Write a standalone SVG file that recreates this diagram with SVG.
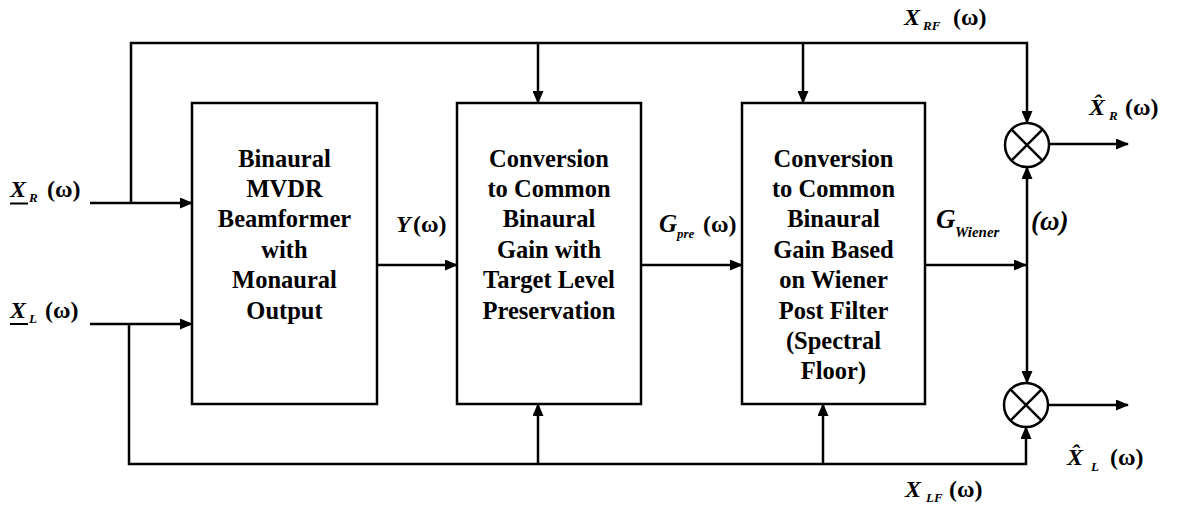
<svg xmlns="http://www.w3.org/2000/svg" width="1178" height="509" viewBox="0 0 1178 509">
<defs>
<marker id="arr" markerUnits="userSpaceOnUse" viewBox="0 0 13 11" markerWidth="13" markerHeight="11" refX="12" refY="5.5" orient="auto">
<path d="M0,0 L13,5.5 L0,11 z" fill="#000"/>
</marker>
<style>
.box{fill:#fff;stroke:#000;stroke-width:2.5}
.ln{fill:none;stroke:#000;stroke-width:2.5}
.i{font-style:italic}
.mul{fill:#fff;stroke:#000;stroke-width:2.5}
</style>
</defs>
<rect width="1178" height="509" fill="#fff"/>

<g id="connectors">
<path class="ln" marker-end="url(#arr)" d="M90,203 H192"/>
<path class="ln" marker-end="url(#arr)" d="M90,324 H192"/>
<path class="ln" marker-end="url(#arr)" d="M131,203 V43 H1027 V123"/>
<path class="ln" marker-end="url(#arr)" d="M538,43 V103"/>
<path class="ln" marker-end="url(#arr)" d="M803,43 V103"/>
<path class="ln" marker-end="url(#arr)" d="M129,324 V464 H1026 V427"/>
<path class="ln" marker-end="url(#arr)" d="M538,464 V404"/>
<path class="ln" marker-end="url(#arr)" d="M823,464 V404"/>
<path class="ln" marker-end="url(#arr)" d="M377,265 H457"/>
<path class="ln" marker-end="url(#arr)" d="M641,265 H742"/>
<path class="ln" marker-end="url(#arr)" d="M925,265 H1026"/>
<path class="ln" marker-end="url(#arr)" d="M1027,265 V167"/>
<path class="ln" marker-end="url(#arr)" d="M1027,265 V383"/>
<path class="ln" marker-end="url(#arr)" d="M1049,144 H1128"/>
<path class="ln" marker-end="url(#arr)" d="M1048,405 H1128"/>
</g>

<g id="beamformer">
<rect class="box" x="192" y="103" width="185" height="301"/>
<text font-family="Times New Roman, Liberation Serif, serif" font-weight="bold" font-size="24.5" text-anchor="middle"><tspan x="284.5" y="166.5">Binaural</tspan><tspan x="284.5" y="196.9">MVDR</tspan><tspan x="284.5" y="227.3">Beamformer</tspan><tspan x="284.5" y="257.7">with</tspan><tspan x="284.5" y="288.1">Monaural</tspan><tspan x="284.5" y="318.5">Output</tspan></text>
</g>

<g id="conversion1">
<rect class="box" x="457" y="103" width="184" height="301"/>
<text font-family="Times New Roman, Liberation Serif, serif" font-weight="bold" font-size="24.5" text-anchor="middle"><tspan x="549" y="166.5">Conversion</tspan><tspan x="549" y="196.9">to Common</tspan><tspan x="549" y="227.3">Binaural</tspan><tspan x="549" y="257.7">Gain with</tspan><tspan x="549" y="288.1">Target Level</tspan><tspan x="549" y="318.5">Preservation</tspan></text>
</g>

<g id="conversion2">
<rect class="box" x="742" y="103" width="183" height="301"/>
<text font-family="Times New Roman, Liberation Serif, serif" font-weight="bold" font-size="24.5" text-anchor="middle"><tspan x="833.5" y="166.5">Conversion</tspan><tspan x="833.5" y="196.9">to Common</tspan><tspan x="833.5" y="227.3">Binaural</tspan><tspan x="833.5" y="257.7">Gain Based</tspan><tspan x="833.5" y="288.1">on Wiener</tspan><tspan x="833.5" y="318.5">Post Filter</tspan><tspan x="833.5" y="348.9">(Spectral</tspan><tspan x="833.5" y="379.3">Floor)</tspan></text>
</g>

<g id="mult-right">
<circle class="mul" cx="1027" cy="145" r="22"/>
<path class="ln" d="M1011.4,129.4 L1042.6,160.6 M1042.6,129.4 L1011.4,160.6"/>
</g>

<g id="mult-left">
<circle class="mul" cx="1026" cy="405" r="22"/>
<path class="ln" d="M1010.4,389.4 L1041.6,420.6 M1041.6,389.4 L1010.4,420.6"/>
</g>

<g id="label-XR">
<text font-family="Times New Roman, Liberation Serif, serif" font-weight="bold" font-size="24"><tspan class="i" x="10" y="197">X</tspan><tspan class="i" x="29" y="202" font-size="13">R</tspan><tspan x="47" y="197">(ω)</tspan></text>
<line x1="10" y1="203.5" x2="28" y2="203.5" stroke="#000" stroke-width="2"/>
</g>
<g id="label-XL">
<text font-family="Times New Roman, Liberation Serif, serif" font-weight="bold" font-size="24"><tspan class="i" x="10" y="318">X</tspan><tspan class="i" x="29" y="323" font-size="13">L</tspan><tspan x="45" y="318">(ω)</tspan></text>
<line x1="10" y1="324" x2="28" y2="324" stroke="#000" stroke-width="2"/>
</g>
<g id="label-Y">
<text font-family="Times New Roman, Liberation Serif, serif" font-weight="bold" font-size="24"><tspan class="i" x="396" y="232">Y</tspan><tspan x="413" y="232">(ω)</tspan></text>
</g>
<g id="label-Gpre">
<text font-family="Times New Roman, Liberation Serif, serif" font-weight="bold" font-size="24"><tspan class="i" x="659" y="232" font-size="25">G</tspan><tspan class="i" x="677" y="238" font-size="13">pre</tspan><tspan x="703" y="232">(ω)</tspan></text>
</g>
<g id="label-GWiener">
<text font-family="Times New Roman, Liberation Serif, serif" font-weight="bold" font-size="27"><tspan class="i" x="936" y="228">G</tspan><tspan class="i" x="955" y="237" font-size="15">Wiener</tspan><tspan class="i" x="1031" y="230">(ω)</tspan></text>
</g>
<g id="label-XRF">
<text font-family="Times New Roman, Liberation Serif, serif" font-weight="bold" font-size="24"><tspan class="i" x="904" y="25">X</tspan><tspan class="i" x="923" y="30" font-size="13">RF</tspan><tspan x="953" y="25">(ω)</tspan></text>
</g>
<g id="label-XLF">
<text font-family="Times New Roman, Liberation Serif, serif" font-weight="bold" font-size="24"><tspan class="i" x="905" y="497">X</tspan><tspan class="i" x="926" y="502" font-size="13">LF</tspan><tspan x="949" y="497">(ω)</tspan></text>
</g>
<g id="label-XhatR">
<text font-family="Times New Roman, Liberation Serif, serif" font-weight="bold" font-size="24"><tspan class="i" x="1089" y="115">X̂</tspan><tspan class="i" x="1109" y="120" font-size="13">R</tspan><tspan x="1125" y="115">(ω)</tspan></text>
</g>
<g id="label-XhatL">
<text font-family="Times New Roman, Liberation Serif, serif" font-weight="bold" font-size="24"><tspan class="i" x="1067" y="465">X̂</tspan><tspan class="i" x="1091" y="471" font-size="13">L</tspan><tspan x="1110" y="465">(ω)</tspan></text>
</g>
</svg>
